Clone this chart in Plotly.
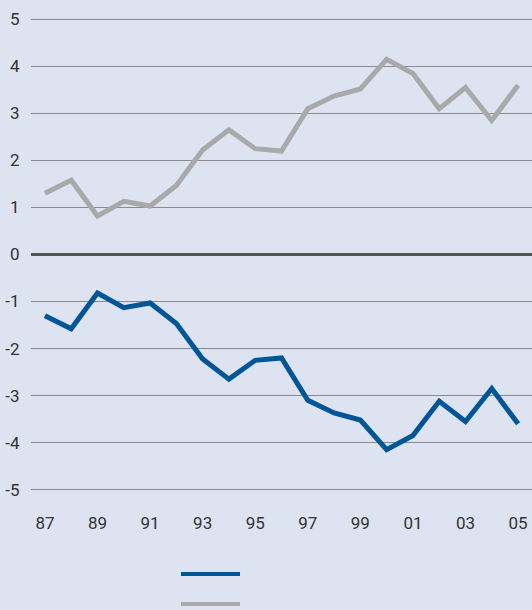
import plotly.graph_objects as go

years = list(range(1987, 2006))
upper = [1.30, 1.58, 0.82, 1.13, 1.03, 1.47, 2.22, 2.65, 2.25, 2.20,
         3.10, 3.37, 3.52, 4.15, 3.85, 3.10, 3.55, 2.85, 3.60]
lower = [-1.30, -1.58, -0.82, -1.13, -1.03, -1.47, -2.22, -2.65, -2.25, -2.20,
         -3.10, -3.37, -3.52, -4.15, -3.85, -3.12, -3.55, -2.85, -3.60]
x_ticks = [1987, 1989, 1991, 1993, 1995, 1997, 1999, 2001, 2003, 2005]
x_labels = ["87", "89", "91", "93", "95", "97", "99", "01", "03", "05"]
y_ticks = [-5, -4, -3, -2, -1, 0, 1, 2, 3, 4, 5]
y_labels = ["-5", "-4", "-3", "-2", "-1", "0", "1", "2", "3", "4", "5"]

BG = "#dde3f1"
BLUE = "#005596"
GREY = "#a9a9a9"

fig = go.Figure()
fig.add_trace(go.Scatter(x=years, y=upper, mode="lines", showlegend=False,
                         line=dict(color=GREY, width=5)))
fig.add_trace(go.Scatter(x=years, y=lower, mode="lines", showlegend=False,
                         line=dict(color=BLUE, width=5)))

# legend swatches (no labels in the original)
for yp, col in [(-0.1726, BLUE), (-0.2358, GREY)]:
    fig.add_shape(type="line", xref="paper", yref="paper",
                  x0=0.2994, x1=0.4172, y0=yp, y1=yp,
                  line=dict(color=col, width=4))

fig.update_layout(
    width=532, height=610,
    margin=dict(l=31, r=0, t=17, b=118),
    paper_bgcolor=BG, plot_bgcolor=BG,
    font=dict(family="Roboto, Arial, sans-serif", size=17, color="#333333"),
    showlegend=False,
)
fig.update_xaxes(range=[1986.47, 2005.53], tickvals=x_ticks, ticktext=x_labels,
                 showgrid=False, zeroline=False, showline=False,
                 ticks="outside", ticklen=16, tickcolor="rgba(0,0,0,0)")
fig.update_yaxes(range=[-5.05, 5.05], tickvals=y_ticks, ticktext=y_labels,
                 showgrid=True, gridcolor="#8a8a8a", gridwidth=1.3,
                 zeroline=True, zerolinecolor="#555555", zerolinewidth=3,
                 showline=False, ticks="outside", ticklen=7,
                 tickcolor="rgba(0,0,0,0)")

fig.write_html("out.html", config={"displayModeBar": False},
               post_script="document.body.style.margin='0';"
                           "document.body.style.overflow='hidden';")
